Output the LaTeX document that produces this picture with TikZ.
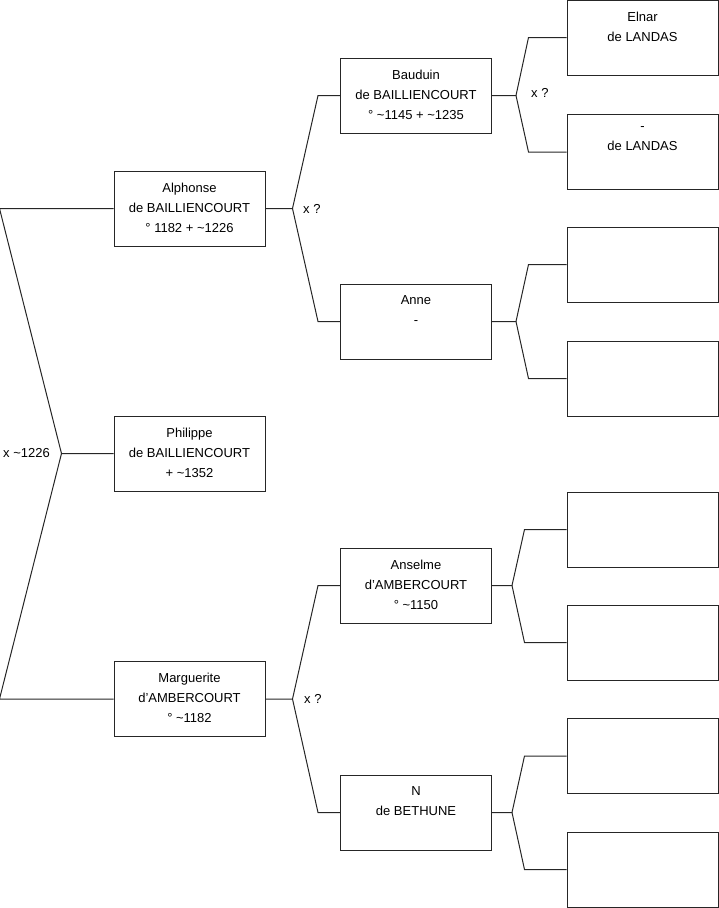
\documentclass[tikz,border=0pt]{standalone}
\usepackage{fontspec}
\setmainfont{Liberation Sans}
\usepackage{tikz}
\usetikzlibrary{calc}
\tikzset{
    person/.style={rectangle, draw=black!85, line width=1pt, minimum width=151, minimum height=75, inner sep=0},
    persontext/.style={anchor=north, inner sep=0, yshift=-12, align=center, font=\fontsize{13}{20}\selectfont, execute at begin node=\strut},
    link/.style={line width=1pt, black!85},
    marriage/.style={anchor=west, inner sep=0, font=\fontsize{13}{16}\selectfont},
}

\begin{document}
\begin{tikzpicture}[x=1pt, y=-1pt]
    \useasboundingbox (0,0) rectangle (719,908);

    % Generation 1
    \node[person] (philippe) at (189.5,453.5) {};
    \node[persontext] (philippe-txt) at (philippe.north) {Philippe\\de BAILLIENCOURT\\+ \textasciitilde1352};

    % Parents
    \node[person] (alphonse) at (189.5,208.5) {};
    \node[persontext] (alphonse-txt) at (alphonse.north) {Alphonse\\de BAILLIENCOURT\\° 1182 + \textasciitilde1226};
    \node[person] (marguerite) at (189.5,699) {};
    \node[persontext] (marguerite-txt) at (marguerite.north) {Marguerite\\d'AMBERCOURT\\° \textasciitilde1182};

    % Grandparents
    \node[person] (bauduin) at (416,95.5) {};
    \node[persontext] (bauduin-txt) at (bauduin.north) {Bauduin\\de BAILLIENCOURT\\° \textasciitilde1145 + \textasciitilde1235};
    \node[person] (anne) at (416,321.5) {};
    \node[persontext] (anne-txt) at (anne.north) {Anne\\-};
    \node[person] (anselme) at (416,585.5) {};
    \node[persontext] (anselme-txt) at (anselme.north) {Anselme\\d'AMBERCOURT\\° \textasciitilde1150};
    \node[person] (bethune) at (416,812.5) {};
    \node[persontext] (bethune-txt) at (bethune.north) {N\\de BETHUNE};

    % Great-grandparents
    \foreach \y [count=\i] in {37.5,152,264.5,378.5,529.5,642.5,756,869.5} {
        \node[person] (anc\i) at (642.5,\y) {};
    }
    \node[persontext] (anc1-txt) at (anc1.north) {Elnar\\de LANDAS};
    \node[persontext] (anc2-txt) at (anc2.north) {-\\de LANDAS};

    % Links
    \draw[link] (philippe.west) -- ++(-52,0) coordinate (jp) -- ($(alphonse.west)+(-114,0)$) -- (alphonse.west);
    \draw[link] (jp) -- ($(marguerite.west)+(-114,0)$) -- (marguerite.west);

    \foreach \kid/\pa/\ma in {alphonse/bauduin/anne, marguerite/anselme/bethune} {
        \draw[link] (\kid.east) -- ++(27,0) coordinate (j\kid) -- ($(\pa.west)+(-22,0)$) -- (\pa.west);
        \draw[link] (j\kid) -- ($(\ma.west)+(-22,0)$) -- (\ma.west);
    }

    \foreach \kid/\pa/\ma/\d/\e in {bauduin/anc1/anc2/24/38, anne/anc3/anc4/24/38, anselme/anc5/anc6/20/42, bethune/anc7/anc8/20/42} {
        \draw[link] (\kid.east) -- ++(\d,0) coordinate (j\kid) -- ($(\pa.west)+(-\e,0)$) -- (\pa.west);
        \draw[link] (j\kid) -- ($(\ma.west)+(-\e,0)$) -- (\ma.west);
    }

    % Marriages
    \node[marriage] (m0) at (3,453.5) {x \textasciitilde1226};
    \node[marriage] (m1) at (303,208.5) {x ?};
    \node[marriage] (m2) at (531,93) {x ?};
    \node[marriage] (m3) at (304,699) {x ?};
\end{tikzpicture}
\end{document}
